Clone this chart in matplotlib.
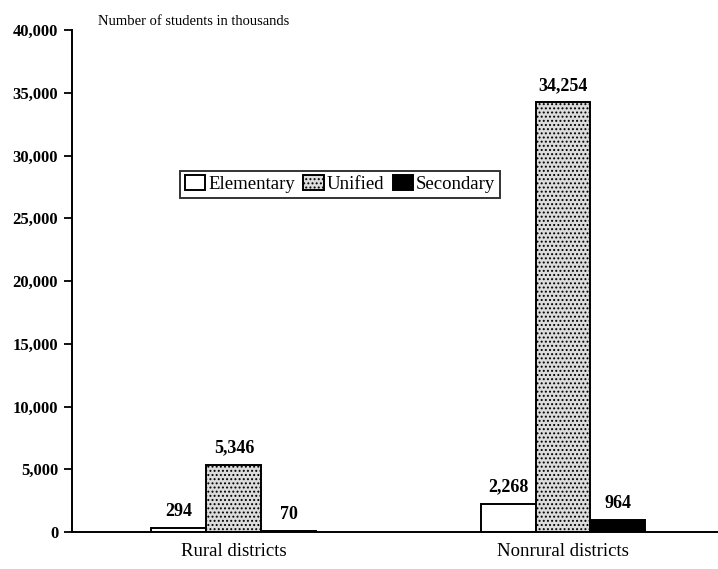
import matplotlib.pyplot as plt
import numpy as np

plt.rcParams['font.family'] = ['Liberation Serif', 'DejaVu Serif']
plt.rcParams['hatch.color'] = '#9a9a9a'
plt.rcParams['hatch.linewidth'] = 0.9

groups = ['Rural districts', 'Nonrural districts']
series = ['Elementary', 'Unified', 'Secondary']
elementary = [294, 2268]
unified = [5346, 34254]
secondary = [70, 964]
yticks = [0, 5000, 10000, 15000, 20000, 25000, 30000, 35000, 40000]

fig = plt.figure(figsize=(7.18, 5.69), dpi=100)
ax = fig.add_axes([0.1003, 0.065, 0.8997, 0.8822])

x = np.arange(len(groups))
w = 0.167
b1 = ax.bar(x - w, elementary, w, color='white', edgecolor='black', linewidth=1.4, label=series[0])
b2 = ax.bar(x, unified, w, color='#dcdcdc', edgecolor='black', linewidth=1.4, hatch='....', label=series[1])
b3 = ax.bar(x + w, secondary, w, color='black', edgecolor='black', linewidth=1.4, label=series[2])

for bars in (b1, b2, b3):
    for rect in bars:
        h = rect.get_height()
        ax.annotate(f'{h:,}', (rect.get_x() + rect.get_width() / 2, h),
                    xytext=(0, 6), textcoords='offset points',
                    ha='center', va='bottom', fontsize=13, fontweight='bold')

ax.set_xlim(-0.492, 1.471)
ax.set_ylim(0, 40000)
ax.set_yticks(yticks)
ax.set_yticklabels([f'{v:,}' for v in yticks], fontsize=12, fontweight='bold')
ax.set_xticks(x)
ax.set_xticklabels(groups, fontsize=13.5)
ax.tick_params(axis='x', length=0, pad=8)
ax.tick_params(axis='y', length=6, width=1.3, direction='out', pad=4)

for s in ('top', 'right'):
    ax.spines[s].set_visible(False)
ax.spines['left'].set_linewidth(1.4)
ax.spines['bottom'].set_linewidth(1.4)

ax.text(0.04, 1.005, 'Number of students in thousands', transform=ax.transAxes,
        fontsize=10.5, ha='left', va='bottom')

leg = ax.legend(loc='center', bbox_to_anchor=(0.415, 0.693), ncol=3, fontsize=13.5,
                frameon=True, fancybox=False, edgecolor='black', handlelength=1.1,
                handleheight=0.8, handletextpad=0.15, columnspacing=0.45,
                borderpad=0.25, borderaxespad=0)
leg.get_frame().set_linewidth(1.4)

fig.savefig('out.png', dpi=100)
